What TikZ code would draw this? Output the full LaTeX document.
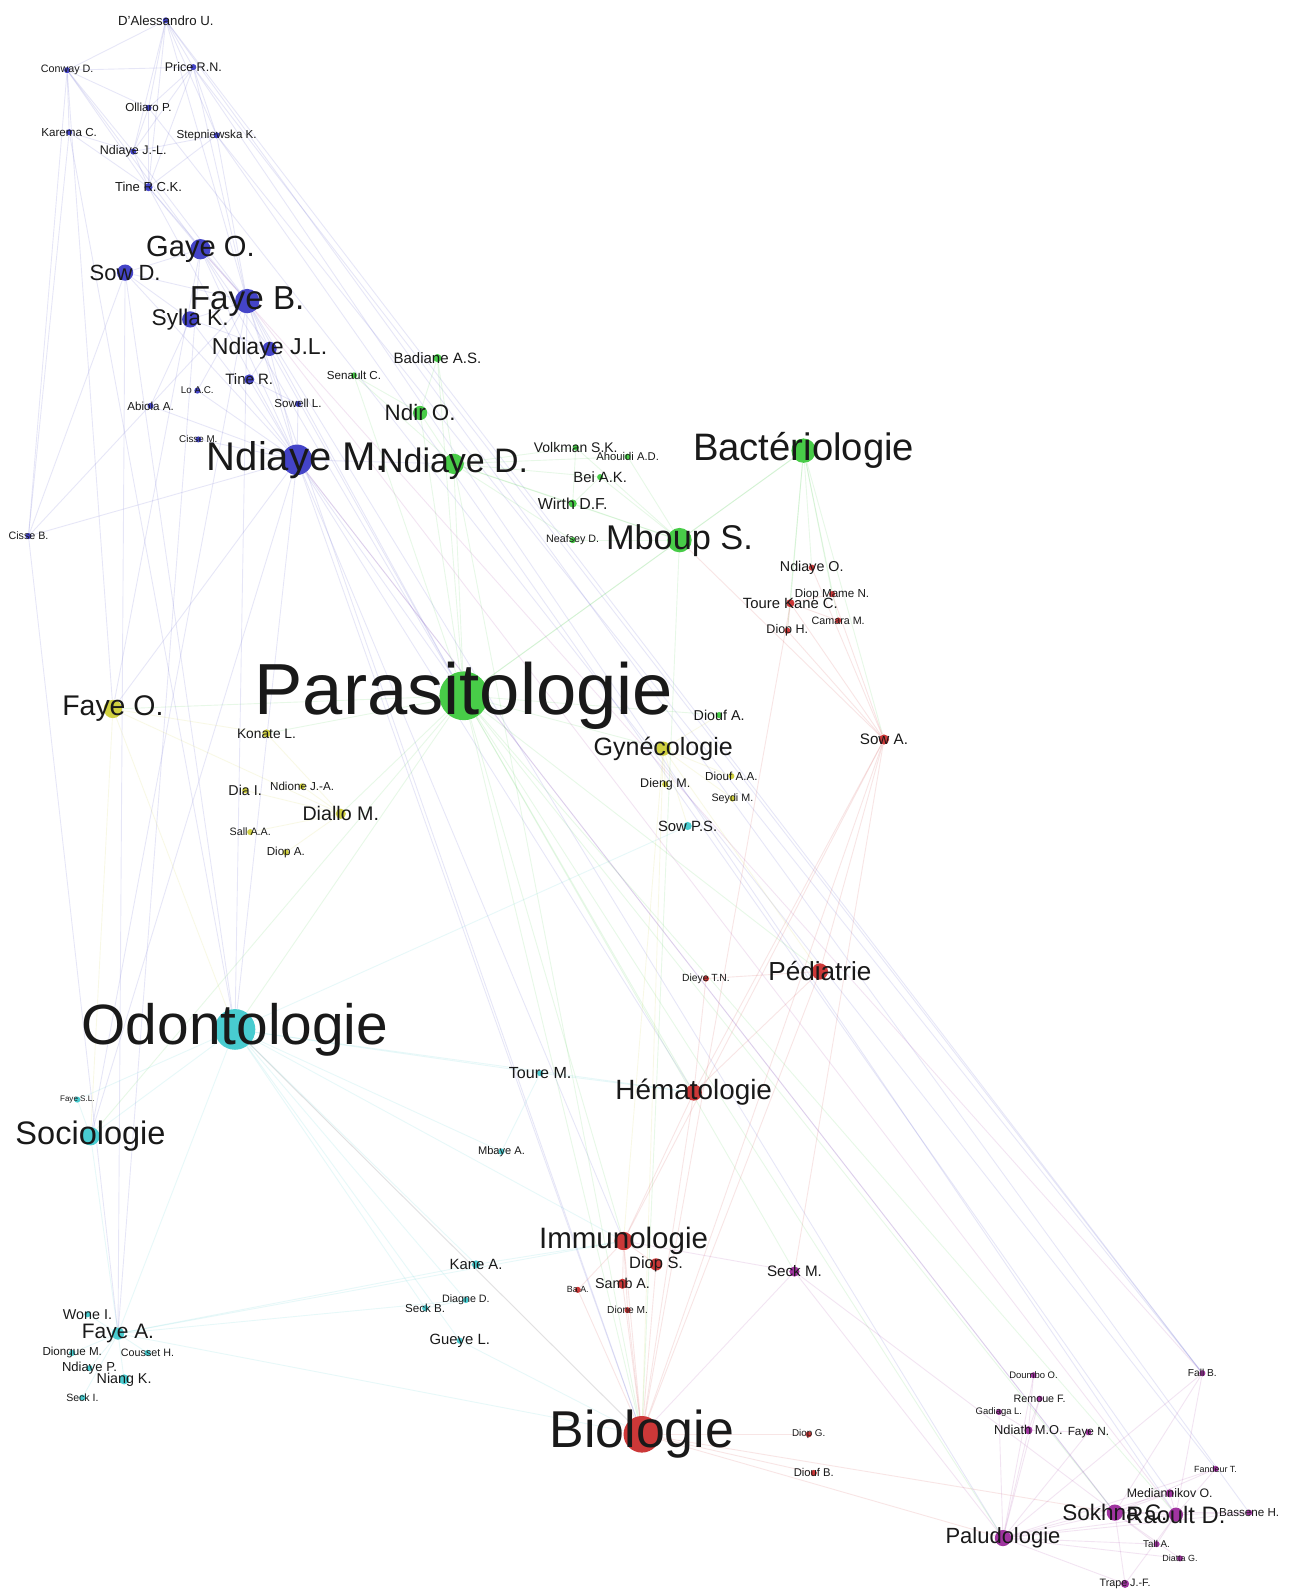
\documentclass[tikz,border=0pt]{standalone}
\usepackage{fontspec}
\setmainfont{Liberation Sans}
\pgfdeclarelayer{bg}
\pgfsetlayers{bg,main}
\definecolor{cBlue}{RGB}{68,68,200}
\definecolor{cGreen}{RGB}{72,204,72}
\definecolor{cYellow}{RGB}{208,208,64}
\definecolor{cCyan}{RGB}{72,204,208}
\definecolor{cRed}{RGB}{204,56,56}
\definecolor{cPurple}{RGB}{160,52,160}
\newcommand{\fsz}[1]{\fontsize{#1}{#1}\selectfont}
\tikzset{
  pdot/.style={circle,inner sep=0pt,draw=none},
  lbl/.style={text=black!90,inner sep=0pt},
  link/.style={line width=.5pt,opacity=.13},
}
% name/x/y/radius/colour/font size/label
\def\people{dal/163/20/3/cBlue/7.4/D'Alessandro U., con/66/69/3/cBlue/6/Conway D., pri/190/66/3/cBlue/7/Price R.N.,
oll/146/106/3/cBlue/6.5/Olliaro P., kar/68/130/3/cBlue/6.5/Karema C., ste/213/133/3/cBlue/6.5/Stepniewska K.,
njl/131/149/3/cBlue/7/Ndiaye J.-L., tin/146/184/4/cBlue/7.3/Tine R.C.K., gay/197/245/10/cBlue/16.3/Gaye O.,
sow/123/268/8/cBlue/12.3/Sow D., fab/243/296/12/cBlue/18.6/Faye B., syl/187/314/8/cBlue/12.7/Sylla K.,
ndj/265/343/7/cBlue/12.9/Ndiaye J.L., bad/430/352/4/cGreen/8.4/Badiane A.S., tir/245/373/5/cBlue/8.4/Tine R.,
sen/348/369/3/cGreen/6.5/Senault C., loa/194/384/3/cBlue/5.5/Lo A.C., abi/148/399/3/cBlue/6.5/Abiola A.,
swl/293/397/3/cBlue/6.5/Sowell L., ndo/413/406/7/cGreen/12.5/Ndir O., cim/195/432/3/cBlue/5.5/Cisse M.,
ndm/292/452/15/cBlue/22.4/Ndiaye M., ndd/446/456/10/cGreen/19/Ndiaye D., vol/566/440/3/cGreen/7.8/Volkman S.K.,
aho/617/449/3/cGreen/6.3/Ahouidi A.D., bei/590/469/3/cGreen/8.3/Bei A.K., wir/563/495/4/cGreen/8.9/Wirth D.F.,
nea/563/531/3/cGreen/6/Neafsey D., mbo/668/531/12/cGreen/19.2/Mboup S., bac/790/443/12/cGreen/21.4/Bactériologie,
ndy/798/558/3/cRed/8/Ndiaye O., dmn/818/584/3/cRed/6.5/Diop Mame N., tkc/777/593/4/cRed/8.3/Toure Kane C.,
cam/824/610/3/cRed/6/Camara M., dph/774/620/3/cRed/7/Diop H., swa/869/727/5/cRed/8.5/Sow A.,
par/456/684/24/cGreen/40.5/Parasitologie, dio/707/703/3/cGreen/8/Diouf A., gyn/652/736/7/cYellow/14/Gynécologie,
kon/262/721/4/cYellow/7.7/Konate L., fao/111/697/9/cYellow/15.9/Faye O., dia/241/777/3/cYellow/8/Dia I.,
ndi/297/773/3/cYellow/6.5/Ndione J.-A., dim/335/800/5/cYellow/11/Diallo M., saa/246/818/3/cYellow/6/Sall A.A.,
dpa/281/838/3/cYellow/6.5/Diop A., dng/654/771/3/cYellow/7/Dieng M., daa/719/763/3/cYellow/6.5/Diouf A.A.,
sey/720/785/3/cYellow/6/Seydi M., sps/676/812/4/cCyan/8.3/Sow P.S., dtn/694/962/3/cRed/5.8/Dieye T.N.,
ped/806/955/8/cRed/14.6/Pédiatrie, odo/231/1012/20/cCyan/31.8/Odontologie, tom/531/1055/3/cCyan/9/Toure M.,
hem/682/1074/8/cRed/15.6/Hématologie, fsl/76/1081/3/cCyan/4.5/Faye S.L., soc/89/1117/9/cCyan/18.2/Sociologie,
mba/493/1132/3/cCyan/6.2/Mbaye A., imm/613/1220/9/cRed/16.5/Immunologie, dis/645/1243/6/cRed/9.2/Diop S.,
kan/468/1243/4/cCyan/8.3/Kane A., sam/612/1262/5/cRed/8/Samb A., baa/568/1268/3/cRed/5/Ba A.,
dnm/617/1288/3/cRed/5.7/Dione M., skm/781/1250/5/cPurple/8.5/Seck M., dgd/458/1278/3/cCyan/6/Diagne D.,
skb/418/1286/3/cCyan/6.5/Seck B., gue/452/1318/3/cCyan/8.3/Gueye L., wni/86/1292/3/cCyan/8/Wone I.,
faa/116/1311/6/cCyan/11.7/Faye A., dgm/71/1330/3/cCyan/6.5/Diongue M., cou/145/1330/3/cCyan/6/Cousset H.,
ndp/88/1345/3/cCyan/7.3/Ndiaye P., nik/122/1356/5/cCyan/8/Niang K., ski/81/1374/3/cCyan/5.9/Seck I.,
bio/631/1410/18/cRed/29/Biologie, dpg/795/1410/3/cRed/5.5/Diop G., dfb/800/1448/3/cRed/6.3/Diouf B.,
dou/1016/1352/3/cPurple/5.3/Doumbo O., fal/1182/1350/3/cPurple/5.7/Fall B., rem/1022/1375/3/cPurple/6/Remoue F.,
gad/982/1388/3/cPurple/5.3/Gadiaga L., nmo/1011/1406/4/cPurple/7.2/Ndiath M.O., fyn/1070/1408/3/cPurple/6.6/Faye N.,
fan/1195/1444/3/cPurple/5/Fandeur T., med/1150/1468/4/cPurple/6.9/Mediannikov O., sok/1096/1487/8/cPurple/12.6/Sokhna C.,
rao/1156/1489/7/cPurple/13.3/Raoult D., bas/1228/1487/3/cPurple/6.5/Bassene H., pal/986/1512/8/cPurple/12.3/Paludologie,
tal/1137/1518/3/cPurple/5.5/Tall A., dig/1160/1532/3/cPurple/5/Diatta G., tra/1106/1557/4/cPurple/6/Trape J.-F.,
cis/28/527/3/cBlue/6/Cisse B.}
\begin{document}
\begin{tikzpicture}[x=.2mm,y=-.2mm]
\useasboundingbox (0,0) rectangle (1267,1568);
\foreach \n/\x/\y/\r/\c/\s/\t in \people
  \node[pdot,fill=\c,minimum size=\r*.4mm] (\n) at (\x,\y) {};	% dots
\foreach \n/\x/\y/\r/\c/\s/\t in \people
  \node[lbl,font=\fsz{\s}] (\n-t) at (\n) {\t};	% labels
\begin{pgfonlayer}{bg}
\fill[white] (0,0) rectangle (1267,1568);
\foreach \a/\b in {dal/con, dal/pri, dal/oll, dal/njl, dal/tin, dal/ste, con/pri, con/kar, con/oll, con/njl, con/tin, con/gay,
  pri/oll, pri/ste, pri/tin, pri/njl, oll/njl, oll/tin, kar/njl, kar/tin, ste/njl, ste/tin, njl/tin, tin/gay, tin/fab,
  njl/fab, gay/fab, gay/sow, sow/fab, sow/syl, fab/syl, fab/ndj, gay/ndj, syl/ndj, ndj/tir, tir/ndm, fab/ndm, gay/ndm,
  sow/ndm, syl/ndm, ndj/ndm, loa/ndm, abi/ndm, swl/ndm, cim/ndm, tir/swl, abi/syl, loa/fab, cis/sow, cis/kar, cis/con,
  cis/ndm, cis/faa, cis/fab, dal/fab, pri/fab, ste/fab, dal/fal, pri/fal, ste/fal, oll/fan, ste/med, pri/rao, dal/bas,
  ndm/par, ndm/ndd, fab/par, gay/par, ndm/odo, fab/odo, sow/odo, gay/fao, ndm/fao, ndj/par, ndm/bio, fab/bio, ndm/imm,
  ndm/soc, fab/soc, sow/faa, gay/faa, ndm/sok, fab/pal, ndm/hem, kar/odo, tin/ndm, con/fao}
  \draw[link,cBlue] (\a) -- (\b);	% blue group
\foreach \a/\b in {par/ndd, par/ndo, par/mbo, par/bac, par/bad, par/sen, ndd/ndo, ndd/mbo, ndd/vol, ndd/aho, ndd/bei,
  ndd/wir, ndd/nea, mbo/vol, mbo/aho, mbo/bei, mbo/wir, mbo/nea, mbo/bac, vol/wir, wir/bei, bac/ndy, bac/tkc, bac/dmn,
  bac/cam, bac/dph, bac/swa, par/dio, par/gyn, par/kon, par/fao, par/dim, par/odo, par/bio, par/hem, par/imm, par/ped,
  par/pal, par/sok, par/rao, par/soc, par/skm, ndd/bad, ndd/sen, ndo/bad, ndo/sen, ndd/bio, mbo/bio}
  \draw[link,cGreen] (\a) -- (\b);	% green group
\foreach \a/\b in {gyn/dng, gyn/daa, gyn/sey, gyn/sps, gyn/dio, gyn/bio, gyn/ped, fao/kon, fao/dim, dim/dia, dim/ndi,
  dim/saa, dim/dpa, dim/kon, fao/odo, fao/soc, gyn/imm}
  \draw[link,cYellow] (\a) -- (\b);	% yellow group
\foreach \a/\b in {swa/bio, swa/hem, swa/imm, swa/ped, swa/tkc, swa/mbo, swa/ndy, swa/dmn, swa/dph, tkc/dph, tkc/dmn,
  tkc/cam, bio/imm, bio/hem, bio/ped, bio/dis, bio/sam, bio/dnm, bio/baa, bio/dpg, bio/dfb, imm/dis, imm/sam, imm/baa,
  imm/dnm, imm/hem, hem/ped, ped/dtn, hem/dtn, bio/pal, bio/sok, bio/odo, swa/skm, tkc/bio}
  \draw[link,cRed] (\a) -- (\b);	% red group
\foreach \a/\b in {odo/soc, odo/fsl, odo/faa, odo/tom, odo/mba, odo/kan, odo/dgd, odo/skb, odo/gue, odo/bio, odo/imm,
  odo/hem, soc/fsl, soc/faa, faa/wni, faa/dgm, faa/cou, faa/ndp, faa/nik, faa/ski, faa/kan, faa/imm, faa/bio, kan/imm,
  skb/dgd, gue/bio, tom/mba, tom/hem, odo/sps, faa/dgd}
  \draw[link,cCyan] (\a) -- (\b);	% cyan group
\foreach \a/\b in {pal/dou, pal/rem, pal/gad, pal/nmo, pal/fyn, pal/sok, pal/rao, pal/med, pal/fan, pal/fal, pal/tal,
  pal/dig, pal/tra, pal/bas, sok/rao, sok/med, sok/tra, sok/tal, sok/dig, sok/bas, sok/fan, sok/fal, rao/med, rao/tra,
  rao/tal, rao/bas, rao/fan, rao/fal, nmo/dou, nmo/rem, nmo/gad, nmo/fyn, skm/pal, skm/bio, skm/imm, skm/sok, sok/ndm,
  rao/fab, fal/gay}
  \draw[link,cPurple] (\a) -- (\b);	% purple group
\end{pgfonlayer}
\end{tikzpicture}
\end{document}
